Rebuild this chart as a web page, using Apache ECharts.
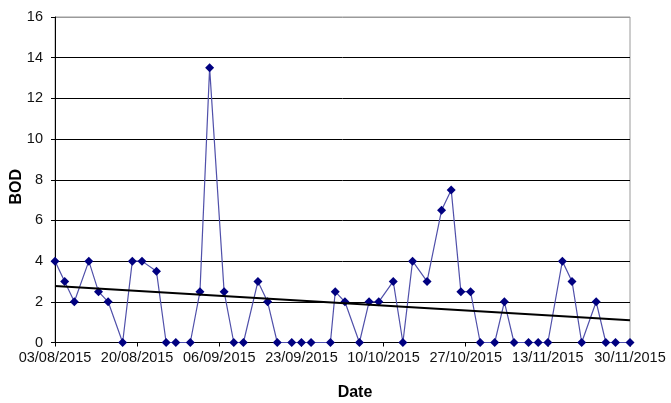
<!DOCTYPE html>
<html>
<head>
<meta charset="utf-8">
<script src="https://cdn.jsdelivr.net/npm/echarts@6/dist/echarts.min.js"></script>
<style>
html,body{margin:0;padding:0;background:#fff;}
#c{width:671px;height:403px;}
</style>
</head>
<body>
<div id="c"></div>
<script>
var startDate = '2015-08-03';
var dates = ['2015-08-03','2015-08-05','2015-08-07','2015-08-10','2015-08-12','2015-08-14','2015-08-17','2015-08-19','2015-08-21','2015-08-24','2015-08-26','2015-08-28','2015-08-31','2015-09-02','2015-09-04','2015-09-07','2015-09-09','2015-09-11','2015-09-14','2015-09-16','2015-09-18','2015-09-21','2015-09-23','2015-09-25','2015-09-29','2015-09-30','2015-10-02','2015-10-05','2015-10-07','2015-10-09','2015-10-12','2015-10-14','2015-10-16','2015-10-19','2015-10-22','2015-10-24','2015-10-26','2015-10-28','2015-10-30','2015-11-02','2015-11-04','2015-11-06','2015-11-09','2015-11-11','2015-11-13','2015-11-16','2015-11-18','2015-11-20','2015-11-23','2015-11-25','2015-11-27','2015-11-30'];
var bod = [4,3,2,4,2.5,2,0,4,4,3.5,0,0,0,2.5,13.5,2.5,0,0,3,2,0,0,0,0,0,2.5,2,0,2,2,3,0,4,3,6.5,7.5,2.5,2.5,0,0,2,0,0,0,0,4,3,0,2,0,0,0];
var xTickDays = 17;
var xMaxDays = 119;
var yMax = 16, yInterval = 2;

function dayOf(s){
  var p = s.split('-'), q = startDate.split('-');
  return Math.round((Date.UTC(+p[0],+p[1]-1,+p[2]) - Date.UTC(+q[0],+q[1]-1,+q[2]))/86400000);
}
function fmt(d){
  var q = startDate.split('-');
  var t = new Date(Date.UTC(+q[0],+q[1]-1,+q[2]) + d*86400000);
  var dd = ('0'+t.getUTCDate()).slice(-2), mm = ('0'+(t.getUTCMonth()+1)).slice(-2);
  return dd+'/'+mm+'/'+t.getUTCFullYear();
}
var pts = dates.map(function(s,i){ return [dayOf(s), bod[i]]; });
// least-squares trend line
var n = pts.length, sx=0, sy=0, sxx=0, sxy=0;
pts.forEach(function(p){ sx+=p[0]; sy+=p[1]; sxx+=p[0]*p[0]; sxy+=p[0]*p[1]; });
var slope = (n*sxy - sx*sy)/(n*sxx - sx*sx);
var icpt = (sy - slope*sx)/n;
var trend = [[0, icpt], [xMaxDays, icpt + slope*xMaxDays]];

var splitColors = [];
for (var i=0;i<=yMax/yInterval;i++) splitColors.push(i===yMax/yInterval ? '#9a9a9a' : '#000');

var chart = echarts.init(document.getElementById('c'), null, {renderer:'canvas'});
chart.setOption({
  animation:false,
  grid:{left:55,right:41,top:17,bottom:60.5,outerBoundsMode:'none',containLabel:false,show:true,borderColor:'#9a9a9a',borderWidth:1,backgroundColor:'transparent'},
  xAxis:{
    type:'value', min:0, max:xMaxDays, interval:xTickDays,
    name:'Date', nameLocation:'middle', nameGap:42, nameMoveOverlap:false,
    nameTextStyle:{fontFamily:'Liberation Sans',fontSize:16,fontWeight:'bold',color:'#000',padding:[0,0,0,25]},
    axisLine:{lineStyle:{color:'#000',width:1}},
    axisTick:{show:true,length:4,lineStyle:{color:'#000'}},
    splitLine:{show:false},
    axisLabel:{fontFamily:'Liberation Sans',fontSize:14.5,color:'#111',margin:8,hideOverlap:false,showMinLabel:true,showMaxLabel:true,formatter:function(v){return fmt(v);}}
  },
  yAxis:{
    type:'value', min:0, max:yMax, interval:yInterval,
    name:'BOD', nameLocation:'middle', nameGap:30, nameRotate:90, nameMoveOverlap:false,
    nameTextStyle:{fontFamily:'Liberation Sans',fontSize:16,fontWeight:'bold',color:'#000',padding:[0,14,0,0]},
    axisLine:{show:true,lineStyle:{color:'#000',width:1}},
    axisTick:{show:true,length:4,lineStyle:{color:'#000'}},
    splitLine:{show:true,lineStyle:{color:splitColors,width:1}},
    axisLabel:{fontFamily:'Liberation Sans',fontSize:14.5,color:'#111',margin:12}
  },
  series:[
    {type:'line', data:pts, symbol:'diamond', symbolSize:9,
     lineStyle:{color:'#5050aa',width:1.2}, itemStyle:{color:'#000080'}, z:3},
    {type:'line', data:trend, symbol:'none', lineStyle:{color:'#000',width:2}, z:4}
  ]
});
</script>
</body>
</html>
